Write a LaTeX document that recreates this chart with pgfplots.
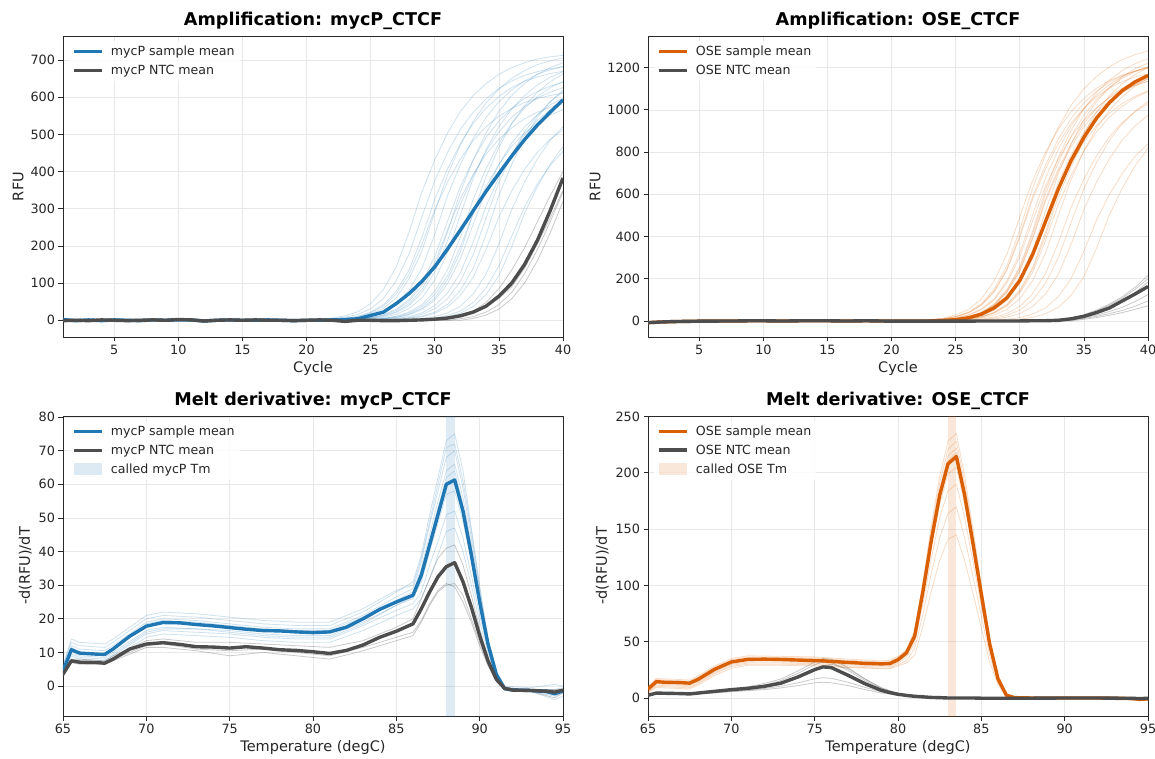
\documentclass[border=0pt]{standalone}
\usepackage{pgfplots}
\usepackage{pgfplotstable}
\pgfplotsset{compat=1.18}
\usepackage{fontspec}
\setmainfont{DejaVu Sans}
\definecolor{cblue}{RGB}{31,119,180}
\definecolor{corange}{RGB}{217,95,2}
\definecolor{cntc}{RGB}{77,77,77}
\definecolor{cgrid}{RGB}{232,232,232}
\definecolor{cframe}{RGB}{40,40,40}

% ---------- amplification mycP: means ----------
\pgfplotstableread{
x m n
1 2 -1
2 -1 0
3 1 -1
4 -1 1
5 1 0
6 0 -1
7 -1 0
8 1 1
9 0 0
10 1 2
11 1 1
12 -2 -2
13 0 0
14 1 1
15 0 0
16 0 1
17 1 0
18 0 0
19 -1 -1
20 0 0
21 0 1
22 1 0
23 2 -3
24 4 0
25 13 0
26 22 -1
27 45 -1
28 72 0
29 105 1
30 144 3
31 192 6
32 243 12
33 295 22
34 347 38
35 395 65
36 442 100
37 486 150
38 525 215
39 560 295
40 593 383
}\ampAmean
% ---------- amplification mycP: samples ----------
\pgfplotstableread{
x s1 s2 s3 s4 s5 s6 s7 s8 s9 s10 s11 s12 s13
1 0 0 0 0 0 0 0 0 0 0 0 0 0
20 0 0 0 0 0 0 0 0 0 0 0 0 0
21 3 0 0 0 0 0 0 0 0 0 0 0 0
22 6 3 2 0 0 0 0 0 0 0 0 0 0
23 12 5 5 3 0 0 0 0 0 0 0 0 0
24 23 11 10 6 3 3 0 0 0 0 0 0 0
25 45 22 20 11 5 6 2 3 0 0 0 0 0
26 83 42 38 22 10 12 5 5 3 0 0 0 0
27 144 78 71 43 21 23 10 11 5 3 2 0 0
28 238 136 124 81 40 45 19 22 10 6 5 2 0
29 346 224 205 140 75 83 37 42 20 11 9 5 2
30 432 326 298 231 130 144 69 78 40 22 19 10 5
31 504 408 372 336 215 238 120 136 74 43 36 20 10
32 562 476 434 420 312 346 198 224 128 81 67 38 19
33 605 530 484 490 390 432 288 326 211 140 116 71 37
34 637 571 521 546 455 504 360 408 307 231 191 124 69
35 662 602 549 588 507 562 420 476 384 336 278 205 120
36 680 626 570 620 546 605 468 530 448 420 348 298 198
37 693 643 586 644 575 637 504 571 499 490 406 372 288
38 703 655 597 662 598 662 531 602 538 546 452 434 360
39 709 664 605 674 614 680 552 626 566 588 487 484 420
40 713 670 611 683 626 693 567 643 589 620 513 521 468
}\ampAs
\pgfplotstableread{
x t1 t2 t3 t4 t5 t6 t7 t8 t9
1 0 0 0 0 0 0 0 0 0
20 0 0 0 0 0 0 0 0 0
21 2 0 0 0 0 0 0 0 0
22 4 2 0 0 0 0 0 0 0
23 8 4 2 0 0 0 2 0 0
24 16 8 4 2 0 0 4 0 0
25 31 17 7 4 2 0 7 2 0
26 59 32 15 8 4 2 14 4 0
27 107 61 30 16 7 4 27 8 0
28 179 112 56 32 15 7 51 16 2
29 279 187 102 60 29 16 93 32 3
30 376 292 172 109 54 31 156 60 6
31 452 392 267 182 99 58 243 110 13
32 514 472 360 284 166 105 327 185 25
33 560 536 432 382 259 177 393 288 48
34 596 585 492 459 349 275 447 387 87
35 624 622 536 522 419 371 487 465 146
36 644 651 570 568 477 445 518 529 227
37 659 672 597 605 520 507 542 577 305
38 669 688 616 633 553 552 560 613 367
39 677 698 630 654 579 588 573 642 417
40 682 706 640 669 598 615 582 663 455
}\ampAt
\pgfplotstableread{
x n1 n2 n3 n4
1 0 0 0 0
29 0 0 0 0
30 0 0 0 3
31 5 0 0 8
32 12 4 0 16
33 25 10 5 25
34 48 22 14 38
35 85 42 30 58
36 135 75 58 90
37 195 125 100 140
38 265 190 160 205
39 335 265 235 275
40 400 345 320 350
}\ampAn

% ---------- amplification OSE ----------
\pgfplotstableread{
x m n
1 -8 -8
2 -5 -5
3 -3 -3
4 -2 -2
5 -1 -1
6 -1 -1
7 0 0
8 0 0
9 1 1
10 1 1
11 0 0
12 0 0
13 1 1
14 1 1
15 1 1
16 0 0
17 0 0
18 1 1
19 0 0
20 -1 -1
21 -1 -1
22 -1 -1
23 0 -1
24 2 -1
25 6 -1
26 15 -1
27 32 0
28 62 0
29 110 0
30 192 0
31 315 1
32 470 1
33 625 3
34 760 10
35 870 22
36 962 40
37 1035 62
38 1092 95
39 1133 128
40 1163 163
}\ampBmean
\pgfplotstableread{
x o1 o2 o3 o4 o5 o6 o7 o8 o9 o10 o11 o12 o13
1 -8 -8 -8 -8 -8 -8 -8 -8 -8 -8 -8 -8 -8
3 -3 -3 -3 -3 -3 -3 -3 -3 -3 -3 -3 -3 -3
7 0 0 0 0 0 0 0 0 0 0 0 0 0
22 0 0 0 0 0 0 0 0 0 0 0 0 0
23 5 5 5 0 0 0 0 0 0 0 0 0 0
24 10 10 10 5 5 5 5 0 0 0 0 0 0
25 21 20 19 10 10 9 10 5 5 5 0 0 0
26 42 39 38 20 19 19 21 10 9 10 4 0 0
27 81 76 74 40 38 38 41 20 18 20 9 4 0
28 151 141 138 78 74 73 80 39 37 41 18 9 4
29 262 246 240 144 138 136 148 76 71 79 36 18 8
30 432 406 396 250 240 236 258 140 132 146 69 35 16
31 629 590 576 413 396 389 426 244 230 254 129 68 32
32 786 738 720 600 576 566 619 403 380 419 224 127 62
33 917 861 840 750 720 708 774 586 552 610 370 220 115
34 1022 959 936 875 840 826 903 732 690 762 538 363 200
35 1100 1033 1008 975 936 920 1006 854 805 889 672 528 330
36 1159 1089 1062 1050 1008 991 1084 952 897 991 784 660 480
37 1205 1132 1104 1106 1062 1044 1142 1025 966 1067 874 770 600
38 1238 1162 1134 1150 1104 1086 1187 1080 1018 1124 941 858 700
39 1262 1184 1156 1181 1134 1115 1219 1122 1058 1168 991 924 780
40 1279 1200 1171 1204 1156 1136 1242 1153 1087 1200 1030 974 840
}\ampBs
\pgfplotstableread{
x u1 u2 u3 u4 u5 u6 u7 u8 u9
1 -8 -8 -8 -8 -8 -8 -8 -8 -8
3 -3 -3 -3 -3 -3 -3 -3 -3 -3
7 0 0 0 0 0 0 0 0 0
22 0 0 0 0 0 0 0 4 0
23 4 0 0 4 0 0 0 7 0
24 7 4 4 7 0 3 0 13 0
25 14 7 8 13 4 7 0 28 0
26 29 13 14 27 7 13 3 55 0
27 56 28 29 53 14 26 7 104 0
28 105 54 58 99 28 51 13 189 0
29 192 102 109 181 55 97 26 317 4
30 322 186 198 304 105 177 52 494 8
31 502 312 333 474 191 296 98 665 17
32 676 486 518 638 320 462 178 799 34
33 812 654 698 766 498 621 299 909 65
34 924 786 838 872 670 747 466 991 121
35 1007 894 954 950 806 849 627 1054 210
36 1071 974 1039 1011 916 926 753 1103 347
37 1121 1037 1106 1058 999 985 857 1139 504
38 1158 1085 1157 1093 1063 1031 934 1165 630
39 1184 1121 1196 1117 1112 1065 994 1183 735
40 1203 1146 1222 1135 1149 1089 1040 1197 819
}\ampBt
\pgfplotstableread{
x g1 g2 g3 g4 g5 g6
1 -8 -8 -8 -8 -8 -8
3 -3 -3 -3 -3 -3 -3
7 0 0 0 0 0 0
32 0 0 0 0 0 0
33 5 4 0 0 0 0
34 14 12 8 6 4 0
35 30 27 20 15 12 8
36 52 48 38 28 22 16
37 80 75 62 45 35 27
38 115 108 95 65 50 40
39 160 150 135 92 70 55
40 215 200 185 125 95 72
}\ampBn

% ---------- melt mycP ----------
\pgfplotstableread{
x m n
65 4.5 3.5
65.5 10.8 7.5
66 9.8 7.1
67 9.5 7
67.5 9.4 6.8
68 11 8
69 14.8 11
70 17.8 12.5
71 18.9 12.9
72 18.8 12.4
73 18.3 11.7
74 17.9 11.6
75 17.4 11.3
76 16.9 11.7
77 16.5 11.3
78 16.4 10.8
79 16.1 10.6
80 15.9 10.2
81 16.1 9.7
82 17.5 10.6
83 20 12.2
84 22.8 14.5
85 25 16.3
86 27 18.5
86.5 33 23
87 42 28
87.5 51 32.5
88 60 35.5
88.5 61.3 36.7
89 52 31
89.5 39 23.5
90 25 15
90.5 12.5 7.5
91 3.5 2
91.5 -0.8 -0.7
92 -1.2 -1.2
93 -1.3 -1.3
94 -1.6 -1.5
94.5 -2.3 -1.8
95 -1.4 -1.2
}\meltAmean
\pgfplotstableread{
x b1 b2 b3 b4 b5 b6 b7 b8 g1 g2 g3
65 6 5 4 4 3 3 6 4 3 3.5 4
65.5 13 12 11.5 10 9 8 14 9.5 7 7.5 8
66 12 11 10 9 8 7.5 13 8.5 6.5 7 8
67.5 11.5 10.5 9.5 8.5 7.5 7 12.5 8 6.5 7 7.5
68 13 12 11.5 10 9 8.5 14 9.5 7.5 8 9
70 20 19 18.5 16.5 15.5 14.5 21 16 11.5 12 13.5
71 21 20 19.5 17.5 16.5 15.5 22 17 11.5 12.5 14
73 20.5 19.5 19 17 16 15 21.5 17 10.5 11 13
75 19.5 18.5 18 16.5 15.5 14.5 20.5 16 9 10.5 13
77 18.5 17.5 17 15.5 14.5 13.5 19.5 15 10 11 12.5
79 18 17 16.5 15 14 13 19 14.5 9 10 12
81 18 17 16.5 15 14 13 19 14.5 8 9 11.5
83 22 21 20.5 19 18 16.5 23 18.5 10.5 11.5 13.5
85 28 26.5 25.5 24 22.5 21 28.5 24 13.5 14.5 17.5
86 31 29 28 26 24.5 23 30 26.5 15 16 20
86.5 39 37 35 31 28 26 38 33 19 19.5 26
87 51 48 45 40 36 32 49 43 24 24.5 32
87.5 62 58 55 48.5 43 39 60 53 28 28.5 38
88 73 68 64 57 51 46 71 62 30 30.5 41
88.5 75 70 66 58 52 47 72 64 30.5 29.5 42
89 64 59 56 49 44 40 61 54 27 25 36
89.5 47 44 42 37 33 30 46 41 20 19 27
90 30 28 27 24 21 19 29 26 13 12 17
90.5 14 13 13 12 11 10 14 13 6.5 6 8.5
91 3.5 3 4 3.5 3 2.5 4 3.5 1.5 1.5 2
91.5 -0.5 -1 -0.5 -1 -1 -1 0 -0.5 -1 -1 -0.5
93 -1 -1.5 -1 -1.5 -1.5 -1.5 -0.5 -1 -1.5 -1.5 -1
94.5 -1.5 -3 -1 -2 -4 -2.5 0.5 -1.5 -2 -3.5 -1
95 -1 -2 -0.5 -1.5 -3 -2 0 -1 -1.5 -2 -1
}\meltAs

% ---------- melt OSE ----------
\pgfplotstableread{
x m n
65 8 2.4
65.5 14.5 4.4
66 14 4.2
67 13.6 3.9
67.5 13.2 3.6
68 16.5 4.4
69 25.5 5.9
70 32 7.4
71 34.3 8.6
72 34.5 10.4
73 34.2 13.3
74 33.7 18.7
75 33.3 25.2
75.5 33 27.6
76 32.5 27
77 31.6 20.2
78 30.8 12.8
79 30.3 6.8
79.5 30.5 4.8
80 34 3.3
80.5 40 2.3
81 55 1.5
81.5 95 1
82 140 0.5
82.5 180 0.3
83 208 0
83.5 214.5 0
84 180 0
84.5 137 0
85 92 -0.2
85.5 48 -0.2
86 17 -0.2
86.5 2.5 -0.2
87 0.3 -0.2
88 0 -0.2
90 0 0
92 0 0
94 -0.5 -0.3
94.5 -1.2 -0.5
95 -0.8 -0.3
}\meltBmean
\pgfplotstableread{
x r1 r2 r3 r4 r5 r6 r7 r8
65 9 7 8.5 6 5.5 5 4 10
65.5 16.5 13.5 15.5 12.5 11.5 10.5 9.5 17.5
66 16 13 15 12 11 10 9 17
67.5 15 12 14 11 10 9 8 16
68 18.5 15.5 17.5 14.5 13.5 12.5 11.5 19.5
69 27.5 24.5 26.5 23.5 22.5 21.5 20 28.5
70 34 31 33 30 29 28 26.5 35
71 36.5 33 35.5 32 31 30 29 37.5
73 36 33 35 32 31 30 29 37
75 35.5 32 34.5 31.5 30.5 29.5 28.5 36.5
77 33.5 30.5 32.5 29.5 28.5 27.5 27 34.5
79 32 29.5 31 28.5 27.5 26.5 26 33
79.5 32.5 29.5 31.5 28.5 27.5 26.5 26 33.5
80 36 33 35 32 31 29.5 28.5 37
80.5 43 41 41 38 36 33 31 42
81 60 58 57 53 49 44 38 56
81.5 104 101 98 91 84 75 64 97
82 153 149 145 134 124 111 95 142
82.5 197 191 186 172 160 142 122 183
83 228 221 215 199 184 164 141 211
83.5 235 228 222 205 190 170 145 218
84 197 191 186 172 160 142 122 183
84.5 150 146 142 131 121 108 93 139
85 101 98 95 88 82 73 62 93
85.5 53 51 50 46 43 38 32 49
86 19 18 18 16 15 13.5 11.5 17
86.5 3 2.5 2.5 2 2 2 1.5 2.5
87 0.5 0.3 0.3 0 0 0 0 0.3
90 0 0 0 0 0 0 0 0
94 -0.5 -0.5 -0.5 -0.5 -0.5 -0.5 -0.5 -0.5
95 -1 -1.5 -0.5 -1 -1 -1 -1 -2
}\meltBs
\pgfplotstableread{
x q1 q2 q3 q4 q5
65 2.5 2.5 2 2 2
65.5 4.5 4.5 4 4 3.5
67.5 4 3.8 3.5 3.5 3
68 4.5 4.5 4 4 3.5
69 6 6 5.5 5 4.5
70 8 7.5 7 6 5.5
71 10 9 8 7 6.5
72 13 11.5 10 8.5 7.5
73 17 15.5 12.5 10.5 9
74 24 22 17.5 13.5 11
75 32 29.5 24 17 13.5
75.5 35 32 28 18 14
76 34.5 31.5 30 17.5 13.5
77 27 24.5 26 14 11
78 17 15.5 17 9.5 7.5
79 9 8 9 5.5 4.5
80 4 3.5 4 3 2.5
81 2 1.5 2 1.5 1
82 0.5 0.5 0.5 0.5 0.5
83 0 0 0 0 0
85 0 0 0 0 0
95 0 -0.5 0 0 0
}\meltBn

\pgfplotsset{
  panel/.style={
    scale only axis, width=500pt, anchor=south west,
    axis line style={cframe, line width=0.9pt},
    grid=major, major grid style={cgrid, line width=0.7pt},
    tick align=outside, tick pos=left, major tick length=4.5pt,
    tick style={cframe, line width=0.8pt},
    /pgf/number format/assume math mode=true,
    /pgf/number format/1000 sep={},
    ticklabel style={font=\fontsize{12.8}{14}\selectfont, text=black!85},
    label style={font=\fontsize{14.5}{16}\selectfont, text=black!85},
    title style={font=\bfseries\fontsize{17.6}{19}\selectfont, yshift=-3pt},
    legend style={draw=none, fill=white, fill opacity=0.8, text opacity=1,
      at={(0.012,0.985)}, anchor=north west,
      font=\fontsize{12.6}{14}\selectfont, row sep=4pt, inner sep=3pt,
      text=black!85},
    legend cell align=left,
    legend image code/.code={\draw[##1] (0pt,0pt) -- (28pt,0pt); \path[draw=none,fill=none] (0pt,0pt) rectangle (35pt,0.1pt);},
    line join=round,
  },
  thinS/.style={line width=0.8pt, opacity=0.22},
  thinN/.style={line width=0.8pt, opacity=0.3},
  meanL/.style={line width=3.4pt},
}

\begin{document}
\begin{tikzpicture}
\useasboundingbox (0pt,0pt) rectangle (1155pt,758pt);

% ===== top left =====
\begin{axis}[panel, at={(63pt,421pt)}, height=301pt,
  xmin=1, xmax=40, ymin=-45, ymax=765,
  xtick={5,10,...,40}, ytick={0,100,...,700},
  title={Amplification: mycP\_CTCF}, xlabel={Cycle}, ylabel={RFU}]
\pgfplotsinvokeforeach{1,...,13}{\addplot[cblue, thinS, forget plot] table[x=x,y=s#1]{\ampAs};}
\pgfplotsinvokeforeach{1,...,9}{\addplot[cblue, thinS, forget plot] table[x=x,y=t#1]{\ampAt};}
\pgfplotsinvokeforeach{1,...,4}{\addplot[cntc, thinN, forget plot] table[x=x,y=n#1]{\ampAn};}
\addplot[cblue, meanL] table[x=x,y=m]{\ampAmean};
\addlegendentry{mycP sample mean}
\addplot[cntc, meanL] table[x=x,y=n]{\ampAmean};
\addlegendentry{mycP NTC mean}
\end{axis}

% ===== top right =====
\begin{axis}[panel, at={(648pt,421pt)}, height=301pt,
  xmin=1, xmax=40, ymin=-76, ymax=1350,
  xtick={5,10,...,40}, ytick={0,200,...,1200},
  title={Amplification: OSE\_CTCF}, xlabel={Cycle}, ylabel={RFU}]
\pgfplotsinvokeforeach{1,...,13}{\addplot[corange, thinS, forget plot] table[x=x,y=o#1]{\ampBs};}
\pgfplotsinvokeforeach{1,...,9}{\addplot[corange, thinS, forget plot] table[x=x,y=u#1]{\ampBt};}
\pgfplotsinvokeforeach{1,...,6}{\addplot[cntc, thinN, forget plot] table[x=x,y=g#1]{\ampBn};}
\addplot[corange, meanL] table[x=x,y=m]{\ampBmean};
\addlegendentry{OSE sample mean}
\addplot[cntc, meanL] table[x=x,y=n]{\ampBmean};
\addlegendentry{OSE NTC mean}
\end{axis}

% ===== bottom left =====
\begin{axis}[panel, at={(63pt,42pt)}, height=300pt,
  xmin=65, xmax=95, ymin=-8.9, ymax=80.3,
  xtick={65,70,...,95}, ytick={0,10,...,80},
  title={Melt derivative: mycP\_CTCF}, xlabel={Temperature (degC)}, ylabel={-d(RFU)/dT}]
\addplot[draw=none, fill=cblue, fill opacity=0.15, forget plot] coordinates {(88,-20) (88.5,-20) (88.5,100) (88,100)} -- cycle;
\pgfplotsinvokeforeach{1,...,8}{\addplot[cblue, thinS, forget plot] table[x=x,y=b#1]{\meltAs};}
\pgfplotsinvokeforeach{1,...,3}{\addplot[cntc, thinN, forget plot] table[x=x,y=g#1]{\meltAs};}
\addplot[cblue, meanL] table[x=x,y=m]{\meltAmean};
\addlegendentry{mycP sample mean}
\addplot[cntc, meanL] table[x=x,y=n]{\meltAmean};
\addlegendentry{mycP NTC mean}
\addlegendimage{legend image code/.code={\fill[cblue, fill opacity=0.15, draw=none] (0pt,-6pt) rectangle (28pt,6pt); \path[draw=none,fill=none] (0pt,0pt) rectangle (35pt,0.1pt);}}
\addlegendentry{called mycP Tm}
\end{axis}

% ===== bottom right =====
\begin{axis}[panel, at={(648pt,42pt)}, height=300pt,
  xmin=65, xmax=95, ymin=-16, ymax=250.5,
  xtick={65,70,...,95}, ytick={0,50,...,250},
  title={Melt derivative: OSE\_CTCF}, xlabel={Temperature (degC)}, ylabel={-d(RFU)/dT}]
\addplot[draw=none, fill=corange, fill opacity=0.15, forget plot] coordinates {(83,-30) (83.5,-30) (83.5,300) (83,300)} -- cycle;
\pgfplotsinvokeforeach{1,...,8}{\addplot[corange, thinS, forget plot] table[x=x,y=r#1]{\meltBs};}
\pgfplotsinvokeforeach{1,...,5}{\addplot[cntc, thinN, forget plot] table[x=x,y=q#1]{\meltBn};}
\addplot[corange, meanL] table[x=x,y=m]{\meltBmean};
\addlegendentry{OSE sample mean}
\addplot[cntc, meanL] table[x=x,y=n]{\meltBmean};
\addlegendentry{OSE NTC mean}
\addlegendimage{legend image code/.code={\fill[corange, fill opacity=0.15, draw=none] (0pt,-6pt) rectangle (28pt,6pt); \path[draw=none,fill=none] (0pt,0pt) rectangle (35pt,0.1pt);}}
\addlegendentry{called OSE Tm}
\end{axis}
\end{tikzpicture}
\end{document}
